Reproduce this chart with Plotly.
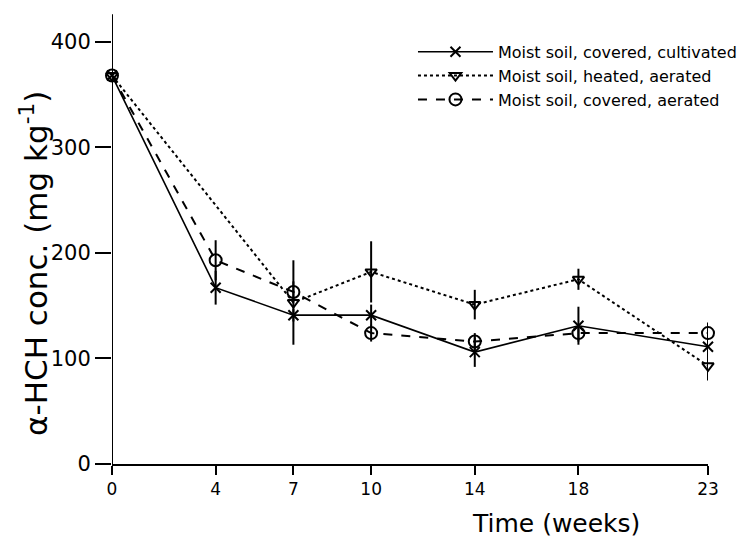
import plotly.graph_objects as go

weeks = [0, 4, 7, 10, 14, 18, 23]
tick_labels = ["0", "4", "7", "10", "14", "18", "23"]
y_ticks = [0, 100, 200, 300, 400]

cultivated = [368, 167, 141, 141, 106, 131, 111]
cultivated_err_up = [58, 16, 6, 10, 14, 18, 10]
cultivated_err_down = [63, 16, 6, 10, 14, 18, 10]

heated = [368, None, 153, 182, 151, 175, 93]
heated_err = [0, 0, 40, 29, 14, 10, 14]

aerated = [368, 193, 163, 124, 116, 124, 124]
aerated_err = [0, 19, 10, 8, 8, 8, 10]

names = ["Moist soil, covered, cultivated",
         "Moist soil, heated, aerated",
         "Moist soil, covered, aerated"]

FONT = "DejaVu Sans"
fig = go.Figure()

fig.add_trace(go.Scatter(
    x=weeks, y=cultivated, name=names[0], mode="lines+markers",
    line=dict(color="black", width=1.6, dash="solid"),
    marker=dict(symbol="x-thin-open", size=10, color="black",
                line=dict(color="black", width=2)),
    error_y=dict(type="data", array=cultivated_err_up, arrayminus=cultivated_err_down,
                 symmetric=False, visible=True, color="black", thickness=2, width=0),
    cliponaxis=False,
))
fig.add_trace(go.Scatter(
    x=weeks, y=heated, name=names[1], mode="lines+markers", connectgaps=True,
    line=dict(color="black", width=2, dash="dot"),
    marker=dict(symbol="triangle-down-open", size=10, color="black",
                line=dict(color="black", width=2)),
    error_y=dict(type="data", array=heated_err, visible=True,
                 color="black", thickness=2, width=0),
    cliponaxis=False,
))
fig.add_trace(go.Scatter(
    x=weeks, y=aerated, name=names[2], mode="lines+markers",
    line=dict(color="black", width=2, dash="dash"),
    marker=dict(symbol="circle-open", size=12, color="black",
                line=dict(color="black", width=2)),
    error_y=dict(type="data", array=aerated_err, visible=True,
                 color="black", thickness=2, width=0),
    cliponaxis=False,
))

fig.update_layout(
    width=748, height=537,
    margin=dict(l=112, r=40, t=8, b=73, autoexpand=False),
    paper_bgcolor="white", plot_bgcolor="white",
    font=dict(family=FONT, color="black"),
    showlegend=True,
    legend=dict(x=0.505, y=0.941, xanchor="left", yanchor="top",
                font=dict(size=16, family=FONT, color="black"),
                bgcolor="rgba(0,0,0,0)", itemwidth=75, tracegroupgap=0),
    xaxis=dict(range=[0, 23], tickmode="array", tickvals=weeks, ticktext=tick_labels,
               showgrid=False, zeroline=False, showline=True, linecolor="black",
               linewidth=2, ticks="outside", ticklen=9, tickwidth=2, tickcolor="black",
               tickfont=dict(size=17, family=FONT)),
    yaxis=dict(range=[0, 432], tickmode="array", tickvals=y_ticks,
               showgrid=False, zeroline=False, showline=False,
               ticks="outside", ticklen=16, tickwidth=2, tickcolor="black",
               tickfont=dict(size=21, family=FONT)),
    shapes=[dict(type="line", xref="x", yref="y", x0=0, x1=0, y0=0, y1=y_ticks[-1],
                 line=dict(color="black", width=2))],
    annotations=[
        dict(text="Time (weeks)", xref="paper", yref="paper",
             x=0.745, y=-0.094, xanchor="center", yanchor="top",
             showarrow=False, font=dict(size=25, family=FONT)),
        dict(text="α-HCH conc. (mg kg<sup>-1</sup>)", xref="paper", yref="paper",
             x=-0.13, y=0.44, xanchor="center", yanchor="middle", textangle=-90,
             showarrow=False, font=dict(size=31, family=FONT)),
    ],
)

fig.write_html("out.html")
